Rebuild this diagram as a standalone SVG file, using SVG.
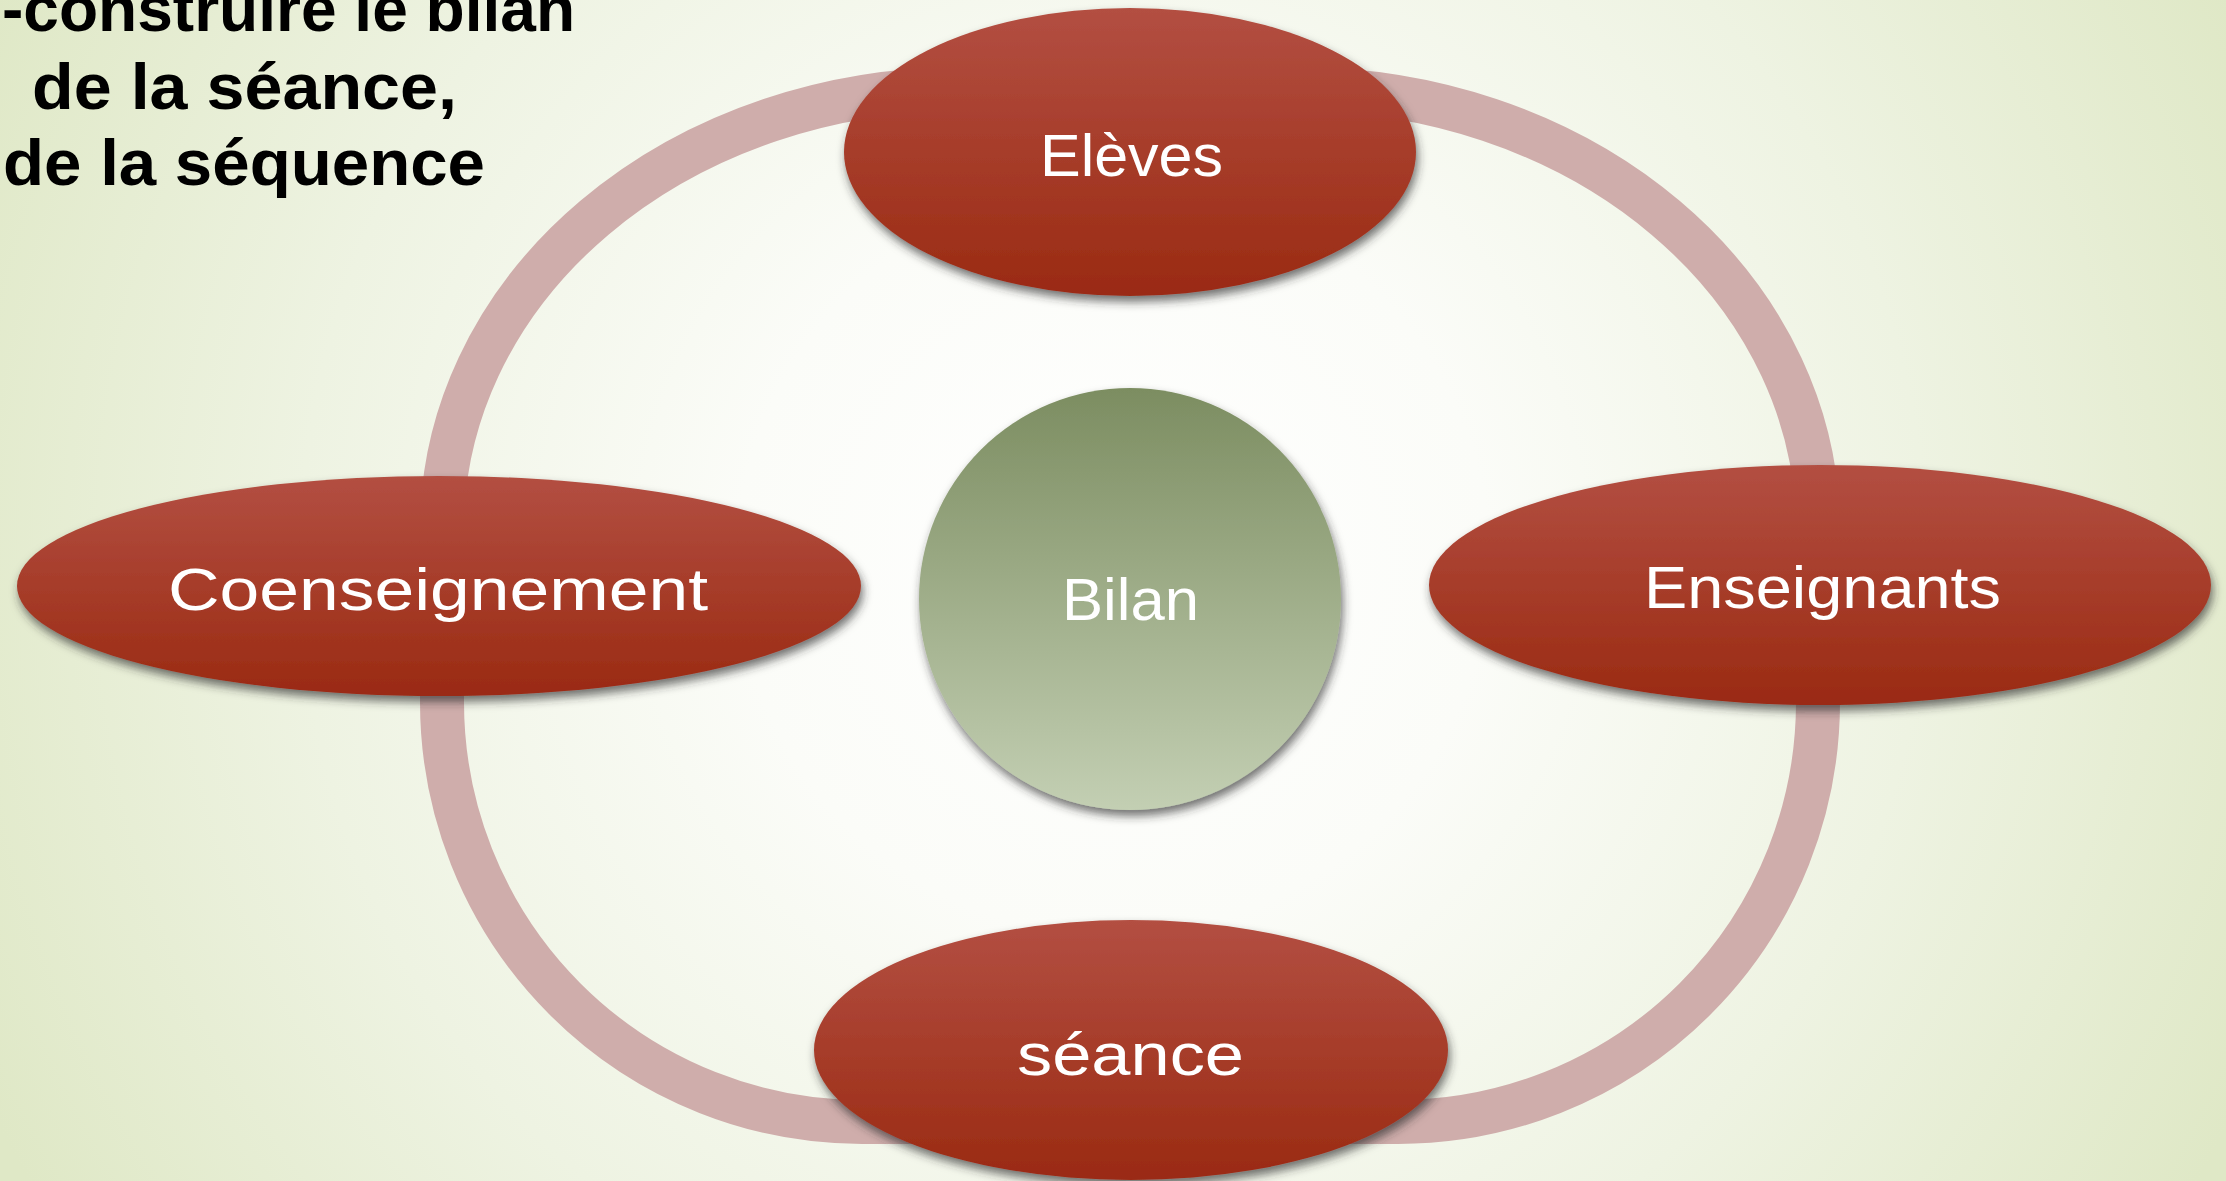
<svg xmlns="http://www.w3.org/2000/svg" width="2226" height="1181" viewBox="0 0 2226 1181">
<defs>
<radialGradient id="bg" gradientUnits="userSpaceOnUse" cx="1113" cy="560" r="1250">
<stop offset="0" stop-color="#ffffff"/>
<stop offset="0.3" stop-color="#fbfcf8"/>
<stop offset="0.65" stop-color="#eef3e2"/>
<stop offset="1" stop-color="#dfe8c6"/>
</radialGradient>
<linearGradient id="red" x1="0" y1="0" x2="0" y2="1">
<stop offset="0" stop-color="#b34f42"/>
<stop offset="1" stop-color="#9a2a12"/>
</linearGradient>
<linearGradient id="green" x1="0" y1="0" x2="0" y2="1">
<stop offset="0" stop-color="#7c8d61"/>
<stop offset="1" stop-color="#c3cfb3"/>
</linearGradient>
<filter id="sh" x="-10%" y="-10%" width="120%" height="130%">
<feDropShadow dx="2" dy="6" stdDeviation="5" flood-color="#2a2a2a" flood-opacity="0.65"/>
</filter>
<style>
.node { fill: url(#red); filter: url(#sh); }
.lbl { font-family: "Liberation Sans", Arial, sans-serif; font-size: 60px; fill: #ffffff; text-anchor: start; }
.title { font-family: "Liberation Sans", Arial, sans-serif; font-size: 64px; font-weight: bold; fill: #000000; }
.ring { fill: none; stroke: #cfadab; stroke-width: 44; }
</style>
</defs>
<rect x="0" y="0" width="2226" height="1181" fill="url(#bg)"/>

<g id="title">
<text class="title" x="2" y="31" textLength="573" lengthAdjust="spacingAndGlyphs">-construire le bilan</text>
<text class="title" x="32" y="109" textLength="425" lengthAdjust="spacingAndGlyphs">de la séance,</text>
<text class="title" x="3" y="185" textLength="482" lengthAdjust="spacingAndGlyphs">de la séquence</text>
</g>

<g id="connectors">
<path class="ring" d="M 962 89 L 1298 89 A 520 440 0 0 1 1818 529 L 1818 702 A 420 420 0 0 1 1398 1122 L 862 1122 A 420 420 0 0 1 442 702 L 442 529 A 520 440 0 0 1 962 89 Z"/>
</g>

<g id="eleves">
<ellipse class="node" cx="1130" cy="152" rx="286" ry="144"/>
<text class="lbl" x="1040" y="176" textLength="183" lengthAdjust="spacingAndGlyphs">Elèves</text>
</g>

<g id="coenseignement">
<ellipse class="node" cx="439" cy="586" rx="422" ry="110"/>
<text class="lbl" x="168" y="610" textLength="540" lengthAdjust="spacingAndGlyphs">Coenseignement</text>
</g>

<g id="enseignants">
<ellipse class="node" cx="1820" cy="585" rx="391" ry="120"/>
<text class="lbl" x="1644" y="608" textLength="357" lengthAdjust="spacingAndGlyphs">Enseignants</text>
</g>

<g id="seance">
<ellipse class="node" cx="1131" cy="1050" rx="317" ry="130"/>
<text class="lbl" x="1017" y="1075" textLength="227" lengthAdjust="spacingAndGlyphs">séance</text>
</g>

<g id="bilan">
<circle cx="1130" cy="599" r="211" fill="url(#green)" filter="url(#sh)"/>
<text class="lbl" x="1062" y="620" textLength="137" lengthAdjust="spacingAndGlyphs">Bilan</text>
</g>
</svg>
